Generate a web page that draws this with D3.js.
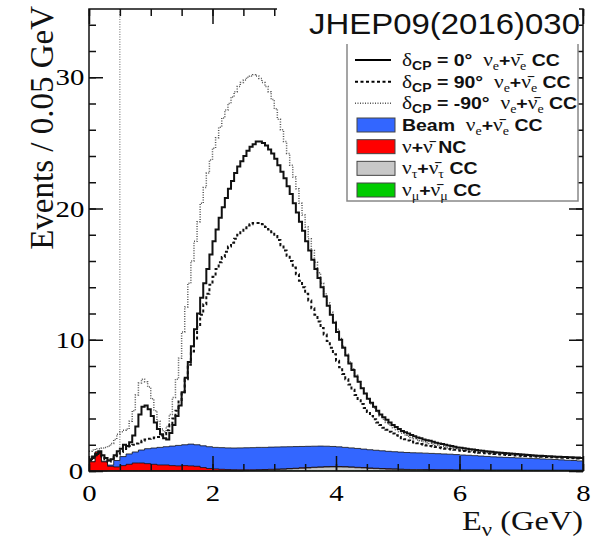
<!DOCTYPE html>
<html>
<head>
<meta charset="utf-8">
<script src="https://cdn.jsdelivr.net/npm/d3@7"></script>
<style>
  body { margin: 0; background: white; }
  .tick-label text {
    font-family: "Liberation Serif", "Times New Roman", serif; font-size: 24px; fill: black;
    transform-box: fill-box; transform-origin: 50% 50%; transform: scaleX(1.2);
  }
  .stretch-left { transform-box: fill-box; transform-origin: 0 50%; transform: scaleX(1.18); }
  .stretch-right { transform-box: fill-box; transform-origin: 100% 50%; transform: scaleX(1.2); }
</style>
</head>
<body>
<div class="canvas"></div>
<script>
'use strict';

// Signal spectra, 0.05 GeV bins from 0 to 8 GeV (one row per GeV)
var SIG_BIN = 0.05;
var dcp0 = [
  0.9, 1.1, 1.3, 1.5, 1.2, 1.0, 0.8, 0.9, 1.2, 1.5, 1.7, 2.0, 1.9, 2.2, 2.7, 3.4, 4.3, 4.9, 5.0, 4.7,
  4.2, 3.7, 3.2, 2.8, 2.5, 2.4, 2.9, 3.5, 4.2, 5.0, 6.0, 7.1, 8.3, 9.5, 10.8, 12.0, 13.2, 14.3, 15.4, 16.5,
  17.5, 18.4, 19.3, 20.1, 20.8, 21.5, 22.1, 22.7, 23.2, 23.6, 24.0, 24.4, 24.7, 24.9, 25.1, 25.1, 25.0, 24.8, 24.5, 24.2,
  23.8, 23.3, 22.8, 22.3, 21.7, 21.1, 20.4, 19.7, 19.0, 18.3, 17.5, 16.8, 16.1, 15.4, 14.7, 14.0, 13.3, 12.6, 11.9, 11.3,
  10.6, 10.0, 9.4, 8.8, 8.2, 7.7, 7.2, 6.8, 6.3, 5.9, 5.5, 5.2, 4.9, 4.6, 4.3, 4.1, 3.9, 3.7, 3.5, 3.35,
  3.2, 3.05, 2.95, 2.85, 2.75, 2.65, 2.55, 2.5, 2.4, 2.35, 2.3, 2.22, 2.15, 2.1, 2.05, 2.0, 1.95, 1.9, 1.85, 1.8,
  1.77, 1.73, 1.7, 1.66, 1.63, 1.6, 1.57, 1.54, 1.51, 1.48, 1.46, 1.43, 1.41, 1.39, 1.37, 1.35, 1.33, 1.31, 1.29, 1.27,
  1.25, 1.23, 1.22, 1.2, 1.19, 1.17, 1.16, 1.14, 1.13, 1.12, 1.1, 1.09, 1.08, 1.07, 1.06, 1.05, 1.04, 1.03, 1.02, 1.0
];
var dcp90 = [
  0.8, 1.0, 1.2, 1.4, 1.1, 0.9, 0.7, 0.85, 1.05, 1.25, 1.45, 1.6, 1.75, 1.9, 2.0, 2.1, 2.2, 2.3, 2.4, 2.45,
  2.5, 2.55, 2.6, 2.7, 2.8, 3.1, 3.5, 4.0, 4.6, 5.3, 6.0, 7.0, 8.1, 9.1, 10.1, 11.0, 11.9, 12.7, 13.5, 14.2,
  14.8, 15.4, 15.9, 16.3, 16.7, 17.1, 17.4, 17.7, 18.0, 18.3, 18.5, 18.7, 18.8, 18.9, 18.9, 18.9, 18.8, 18.6, 18.4, 18.2,
  17.9, 17.6, 17.2, 16.8, 16.4, 16.0, 15.5, 15.0, 14.5, 14.0, 13.5, 13.0, 12.4, 11.9, 11.4, 10.9, 10.4, 9.9, 9.4, 8.9,
  8.4, 7.9, 7.4, 7.0, 6.6, 6.2, 5.8, 5.4, 5.1, 4.8, 4.5, 4.2, 3.95, 3.7, 3.5, 3.3, 3.15, 3.0, 2.85, 2.72,
  2.6, 2.5, 2.41, 2.33, 2.25, 2.18, 2.11, 2.05, 2.0, 1.95, 1.9, 1.86, 1.82, 1.78, 1.74, 1.7, 1.67, 1.64, 1.61, 1.58,
  1.55, 1.52, 1.49, 1.46, 1.44, 1.41, 1.39, 1.37, 1.35, 1.33, 1.31, 1.29, 1.27, 1.26, 1.24, 1.22, 1.21, 1.19, 1.18, 1.16,
  1.15, 1.14, 1.12, 1.11, 1.1, 1.09, 1.08, 1.07, 1.06, 1.05, 1.04, 1.03, 1.02, 1.01, 1.0, 0.99, 0.98, 0.97, 0.96, 0.95
];
var dcpm90 = [
  1.5, 1.6, 1.7, 1.7, 1.75, 1.8, 1.9, 2.1, 2.4, 2.8, 3.0, 3.1, 3.2, 3.8, 4.6, 5.8, 6.7, 7.0, 6.8, 6.4,
  5.5, 4.6, 3.8, 3.2, 3.0, 3.4, 4.3, 5.6, 7.0, 8.6, 10.6, 12.5, 14.3, 16.0, 17.5, 19.0, 20.4, 21.6, 22.7, 23.7,
  24.6, 25.4, 26.2, 26.9, 27.5, 28.0, 28.5, 28.9, 29.3, 29.6, 29.8, 30.0, 30.1, 30.2, 30.1, 29.9, 29.6, 29.3, 28.9, 28.3,
  27.6, 26.8, 26.0, 25.1, 24.2, 23.3, 22.4, 21.5, 20.4, 19.5, 18.6, 17.7, 16.8, 15.9, 15.1, 14.3, 13.5, 12.8, 12.1, 11.4,
  10.8, 10.1, 9.5, 8.9, 8.3, 7.8, 7.3, 6.8, 6.3, 5.9, 5.5, 5.1, 4.8, 4.5, 4.2, 3.95, 3.7, 3.5, 3.3, 3.15,
  3.0, 2.87, 2.75, 2.64, 2.54, 2.45, 2.37, 2.29, 2.22, 2.15, 2.09, 2.03, 1.97, 1.92, 1.87, 1.82, 1.78, 1.74, 1.7, 1.66,
  1.62, 1.59, 1.56, 1.53, 1.5, 1.48, 1.45, 1.43, 1.41, 1.39, 1.37, 1.35, 1.33, 1.31, 1.29, 1.28, 1.26, 1.24, 1.23, 1.21,
  1.2, 1.18, 1.17, 1.16, 1.14, 1.13, 1.12, 1.11, 1.1, 1.09, 1.08, 1.07, 1.06, 1.05, 1.04, 1.03, 1.02, 1.01, 1.0, 0.98
];

// Backgrounds, 0.1 GeV bins (one row per GeV)
var BG_BIN = 0.1;
var bgBeam = [
  0, 0, 0.05, 0.09, 0.49, 0.69, 0.79, 0.84, 0.99, 1.14,
  1.24, 1.34, 1.39, 1.49, 1.56, 1.59, 1.66, 1.64, 1.66, 1.66,
  1.64, 1.65, 1.65, 1.65, 1.67, 1.68, 1.69, 1.70, 1.69, 1.69,
  1.68, 1.68, 1.66, 1.65, 1.63, 1.62, 1.60, 1.59, 1.56, 1.53,
  1.50, 1.47, 1.45, 1.44, 1.41, 1.39, 1.37, 1.35, 1.33, 1.31,
  1.30, 1.29, 1.28, 1.27, 1.26, 1.24, 1.23, 1.21, 1.19, 1.17,
  1.14, 1.12, 1.09, 1.06, 1.04, 1.01, 0.99, 0.97, 0.95, 0.93,
  0.92, 0.90, 0.88, 0.86, 0.84, 0.82, 0.79, 0.76, 0.74, 0.71
];
var bgNC = [
  0.7, 1.45, 0.7, 0.35, 0.3, 0.4, 0.5, 0.6, 0.6, 0.55,
  0.5, 0.45, 0.45, 0.4, 0.38, 0.4, 0.38, 0.35, 0.25, 0.18,
  0.15, 0.12, 0.1, 0.09, 0.08, 0.06, 0.05, 0.04, 0.04, 0.04,
  0.04, 0.03, 0.03, 0.03, 0.03, 0.03, 0.03, 0.03, 0.03, 0.03,
  0.03, 0.03, 0.03, 0.03, 0.03, 0.03, 0.03, 0.03, 0.03, 0.03,
  0.03, 0.02, 0.02, 0.02, 0.02, 0.02, 0.02, 0.02, 0.02, 0.02,
  0.02, 0.02, 0.02, 0.02, 0.02, 0.02, 0.02, 0.02, 0.02, 0.02,
  0.02, 0.02, 0.02, 0.02, 0.02, 0.02, 0.02, 0.02, 0.02, 0.02
];
var bgNuTau = [
  0, 0, 0, 0, 0, 0, 0, 0, 0, 0,
  0, 0, 0, 0, 0, 0, 0, 0, 0, 0,
  0, 0, 0, 0, 0, 0.02, 0.03, 0.05, 0.06, 0.08,
  0.1, 0.12, 0.15, 0.17, 0.2, 0.22, 0.25, 0.27, 0.29, 0.3,
  0.3, 0.29, 0.27, 0.24, 0.22, 0.19, 0.17, 0.15, 0.13, 0.12,
  0.1, 0.09, 0.08, 0.08, 0.07, 0.07, 0.06, 0.06, 0.06, 0.05,
  0.05, 0.05, 0.05, 0.05, 0.04, 0.04, 0.04, 0.04, 0.04, 0.04,
  0.03, 0.03, 0.03, 0.03, 0.03, 0.03, 0.03, 0.03, 0.03, 0.03
];
var bgNuMu = [
  0, 0, 0, 0.01, 0.01, 0.01, 0.01, 0.01, 0.01, 0.01,
  0.01, 0.01, 0.01, 0.01, 0.01, 0.01, 0.01, 0.01, 0.01, 0.01,
  0.01, 0.01, 0.01, 0.01, 0.01, 0.01, 0.01, 0.01, 0.01, 0.01,
  0.01, 0.01, 0.01, 0.01, 0.01, 0.01, 0.01, 0.01, 0.01, 0.01,
  0.01, 0.01, 0.01, 0.01, 0.01, 0.01, 0.01, 0.01, 0.01, 0.01,
  0.01, 0.01, 0.01, 0.01, 0.01, 0.01, 0.01, 0.01, 0.01, 0.01,
  0.01, 0.01, 0.01, 0.01, 0.01, 0.01, 0.01, 0.01, 0.01, 0.01,
  0.01, 0.01, 0.01, 0.01, 0.01, 0.01, 0.01, 0.01, 0.01, 0.01
];

// Axis ticks
var xMajorTicks = [0, 2, 4, 6, 8];
var xMinorTicks = d3.range(0, 8.01, 0.5);
var yMajorTicks = [0, 10, 20, 30];
var yMinorTicks = d3.range(0, 35, 2);
var E_CUT = 0.5;

var STACK_KEYS = ['numu', 'nutau', 'nc', 'beam'];
var STACK_COLOR = { beam: '#3366ff', nc: '#ff0000', nutau: '#c8c8c8', numu: '#00cc00' };

// Legend rows: [text, style] segments. g = greek, b = bold, s = subscript, sb = bold subscript
var legendRows = [
  { kind: 'line', dash: null, width: 2, color: '#000',
    label: [['δ', 'g'], ['CP', 'sb'], [' = 0°\u00a0\u00a0', 'b'], ['ν', 'g'], ['e', 's'], ['+', 'b'], ['ν̄', 'g'], ['e', 's'], [' CC', 'b']] },
  { kind: 'line', dash: '3,2.5', width: 2, color: '#000',
    label: [['δ', 'g'], ['CP', 'sb'], [' = 90°\u00a0\u00a0', 'b'], ['ν', 'g'], ['e', 's'], ['+', 'b'], ['ν̄', 'g'], ['e', 's'], [' CC', 'b']] },
  { kind: 'line', dash: '1,1.5', width: 1.5, color: '#555',
    label: [['δ', 'g'], ['CP', 'sb'], [' = -90°\u00a0\u00a0', 'b'], ['ν', 'g'], ['e', 's'], ['+', 'b'], ['ν̄', 'g'], ['e', 's'], [' CC', 'b']] },
  { kind: 'box', key: 'beam',
    label: [['Beam\u00a0\u00a0', 'b'], ['ν', 'g'], ['e', 's'], ['+', 'b'], ['ν̄', 'g'], ['e', 's'], [' CC', 'b']] },
  { kind: 'box', key: 'nc',
    label: [['ν', 'g'], ['+', 'b'], ['ν̄', 'g'], [' NC', 'b']] },
  { kind: 'box', key: 'nutau',
    label: [['ν', 'g'], ['τ', 's'], ['+', 'b'], ['ν̄', 'g'], ['τ', 's'], [' CC', 'b']] },
  { kind: 'box', key: 'numu',
    label: [['ν', 'g'], ['μ', 's'], ['+', 'b'], ['ν̄', 'g'], ['μ', 's'], [' CC', 'b']] }
];

var W = 593, H = 541;
var FRAME = { left: 89, right: 583, top: 9, bottom: 471 };

var svg = d3.select('.canvas').append('svg')
  .attr('width', W)
  .attr('height', H);

var x = d3.scaleLinear().domain([0, 8]).range([FRAME.left, FRAME.right]);
var y = d3.scaleLinear().domain([0, 35.2]).range([FRAME.bottom, FRAME.top]);

drawBackgrounds();
drawSignals();
drawFrame();
drawLegend();
drawStamp();
drawTitles();

// Turn per-bin values into step points, closing the last bin at its right edge
function stepPoints(values, binWidth) {
  var pts = values.map(function(v, i) { return [i * binWidth, v]; });
  pts.push([values.length * binWidth, values[values.length - 1]]);
  return pts;
}

function drawBackgrounds() {
  var rows = bgBeam.map(function(v, i) {
    return { e: i * BG_BIN, beam: v, nc: bgNC[i], nutau: bgNuTau[i], numu: bgNuMu[i] };
  });
  var last = Object.assign({}, rows[rows.length - 1]);
  last.e = rows.length * BG_BIN;
  rows.push(last);

  var layers = d3.stack().keys(STACK_KEYS)(rows);
  var top = d3.line()
    .curve(d3.curveStepAfter)
    .x(function(d) { return x(d.data.e); })
    .y(function(d) { return y(d[1]); });

  // draw from the top layer down, like a stacked histogram
  var g = svg.append('g').attr('class', 'backgrounds');
  layers.slice().reverse().forEach(function(layer) {
    var tops = layer.map(function(d) { return [d.data.e, d[1]]; });
    g.append('path')
      .attr('d', d3.area()
        .curve(d3.curveStepAfter)
        .x(function(d) { return x(d[0]); })
        .y0(y(0))
        .y1(function(d) { return y(d[1]); })(tops))
      .style('fill', STACK_COLOR[layer.key])
      .style('stroke', 'none');
    g.append('path')
      .attr('d', top(layer))
      .style('fill', 'none')
      .style('stroke', '#111')
      .style('stroke-width', 0.8);
  });
}

function drawSignals() {
  var line = d3.line()
    .curve(d3.curveStepAfter)
    .x(function(d) { return x(d[0]); })
    .y(function(d) { return y(d[1]); });
  var g = svg.append('g').attr('class', 'signals');

  g.append('path')
    .attr('d', line(stepPoints(dcpm90, SIG_BIN)))
    .style('fill', 'none')
    .style('stroke', '#555')
    .style('stroke-width', 1.5)
    .style('stroke-dasharray', '1,1.5');
  g.append('path')
    .attr('d', line(stepPoints(dcp90, SIG_BIN)))
    .style('fill', 'none')
    .style('stroke', '#111')
    .style('stroke-width', 2)
    .style('stroke-dasharray', '3,2.5');
  g.append('path')
    .attr('d', line(stepPoints(dcp0, SIG_BIN)))
    .style('fill', 'none')
    .style('stroke', '#111')
    .style('stroke-width', 2);

  // analysis threshold
  g.append('line')
    .attr('x1', x(E_CUT)).attr('x2', x(E_CUT))
    .attr('y1', FRAME.top).attr('y2', FRAME.bottom)
    .style('stroke', '#666')
    .style('stroke-width', 1)
    .style('stroke-dasharray', '1,1.5');
}

function styleAxis(sel) {
  sel.select('.domain').remove();
  sel.selectAll('.tick line').style('stroke', '#111').style('stroke-width', 1.5);
  sel.classed('tick-label', true);
  sel.selectAll('text').attr('font-family', null).attr('font-size', null);
}

function drawFrame() {
  var g = svg.append('g').attr('class', 'axes');

  g.append('g').attr('transform', 'translate(0,' + FRAME.bottom + ')')
    .call(d3.axisBottom(x).tickValues(xMinorTicks).tickSize(-7).tickFormat(''))
    .call(styleAxis);
  g.append('g').attr('transform', 'translate(0,' + FRAME.bottom + ')')
    .call(d3.axisBottom(x).tickValues(xMajorTicks).tickSize(-15).tickPadding(13).tickFormat(d3.format('d')))
    .call(styleAxis);
  g.append('g').attr('transform', 'translate(0,' + FRAME.top + ')')
    .call(d3.axisTop(x).tickValues(xMinorTicks).tickSize(-7).tickFormat(''))
    .call(styleAxis);
  g.append('g').attr('transform', 'translate(0,' + FRAME.top + ')')
    .call(d3.axisTop(x).tickValues(xMajorTicks).tickSize(-15).tickFormat(''))
    .call(styleAxis);

  g.append('g').attr('transform', 'translate(' + FRAME.left + ',0)')
    .call(d3.axisLeft(y).tickValues(yMinorTicks).tickSize(-7).tickFormat(''))
    .call(styleAxis);
  g.append('g').attr('transform', 'translate(' + FRAME.left + ',0)')
    .call(d3.axisLeft(y).tickValues(yMajorTicks).tickSize(-14).tickPadding(7).tickFormat(d3.format('d')))
    .call(styleAxis);
  g.append('g').attr('transform', 'translate(' + FRAME.right + ',0)')
    .call(d3.axisRight(y).tickValues(yMinorTicks).tickSize(-7).tickFormat(''))
    .call(styleAxis);
  g.append('g').attr('transform', 'translate(' + FRAME.right + ',0)')
    .call(d3.axisRight(y).tickValues(yMajorTicks).tickSize(-14).tickFormat(''))
    .call(styleAxis);

  g.append('rect')
    .attr('x', FRAME.left).attr('y', FRAME.top)
    .attr('width', FRAME.right - FRAME.left)
    .attr('height', FRAME.bottom - FRAME.top)
    .style('fill', 'none')
    .style('stroke', '#111')
    .style('stroke-width', 1.5);
}

function appendRichText(text, segments, size) {
  var shift = 0;
  segments.forEach(function(seg) {
    var style = seg[1];
    var isSub = style === 's' || style === 'sb';
    var target = isSub ? 4 : 0;
    var t = text.append('tspan')
      .text(seg[0])
      .attr('dy', target - shift);
    shift = target;
    if (style === 'g') {
      t.style('font-family', '"Liberation Serif", serif').style('font-weight', 'normal')
        .style('font-size', (size * 1.1) + 'px');
    } else if (style === 's') {
      t.style('font-size', (size * 0.72) + 'px').style('font-weight', 'normal')
        .style('font-family', '"Liberation Serif", serif');
    } else if (style === 'sb') {
      t.style('font-size', (size * 0.72) + 'px').style('font-weight', 'bold');
    } else {
      t.style('font-weight', 'bold');
    }
  });
}

function drawLegend() {
  var box = { x: 347, y: 40, w: 231, h: 161 };
  var g = svg.append('g').attr('class', 'legend');
  g.append('rect')
    .attr('x', box.x).attr('y', box.y)
    .attr('width', box.w).attr('height', box.h)
    .style('fill', 'white')
    .style('stroke', '#888')
    .style('stroke-width', 1.5);

  var rowY = d3.scaleLinear().domain([0, legendRows.length - 1]).range([60, 190]);
  legendRows.forEach(function(row, i) {
    var cy = rowY(i);
    if (row.kind === 'line') {
      g.append('line')
        .attr('x1', 355).attr('x2', 391)
        .attr('y1', cy).attr('y2', cy)
        .style('stroke', row.color)
        .style('stroke-width', row.width)
        .style('stroke-dasharray', row.dash);
    } else {
      g.append('rect')
        .attr('x', 357).attr('y', cy - 7)
        .attr('width', 38).attr('height', 14)
        .style('fill', STACK_COLOR[row.key])
        .style('stroke', '#444')
        .style('stroke-width', 1);
    }
    var text = g.append('text')
      .attr('class', 'stretch-left')
      .attr('x', 402)
      .attr('y', cy + 6)
      .style('font-family', '"Liberation Sans", Arial, sans-serif')
      .style('font-size', '16.5px')
      .style('fill', '#111');
    appendRichText(text, row.label, 16.5);
  });
}

function drawStamp() {
  svg.append('rect')
    .attr('x', 277).attr('y', 0)
    .attr('width', 302).attr('height', 44)
    .style('fill', 'white');
  svg.append('text')
    .attr('x', 309)
    .attr('y', 34)
    .attr('textLength', 271)
    .attr('lengthAdjust', 'spacingAndGlyphs')
    .style('font-family', '"Liberation Sans", Arial, sans-serif')
    .style('font-size', '30px')
    .style('fill', '#111')
    .text('JHEP09(2016)030');
}

function drawTitles() {
  svg.append('text')
    .attr('transform', 'translate(53,6) rotate(-90)')
    .attr('text-anchor', 'end')
    .style('font-family', '"Liberation Serif", "Times New Roman", serif')
    .style('font-size', '33px')
    .style('fill', '#111')
    .text('Events / 0.05 GeV');

  var xTitle = svg.append('text')
    .attr('class', 'stretch-right')
    .attr('x', FRAME.right)
    .attr('y', 530)
    .attr('text-anchor', 'end')
    .style('font-family', '"Liberation Serif", "Times New Roman", serif')
    .style('font-size', '27px')
    .style('fill', '#111');
  xTitle.append('tspan').text('E');
  xTitle.append('tspan').text('ν').attr('dy', 6).style('font-size', '19px');
  xTitle.append('tspan').text(' (GeV)').attr('dy', -6);
}
</script>
</body>
</html>
